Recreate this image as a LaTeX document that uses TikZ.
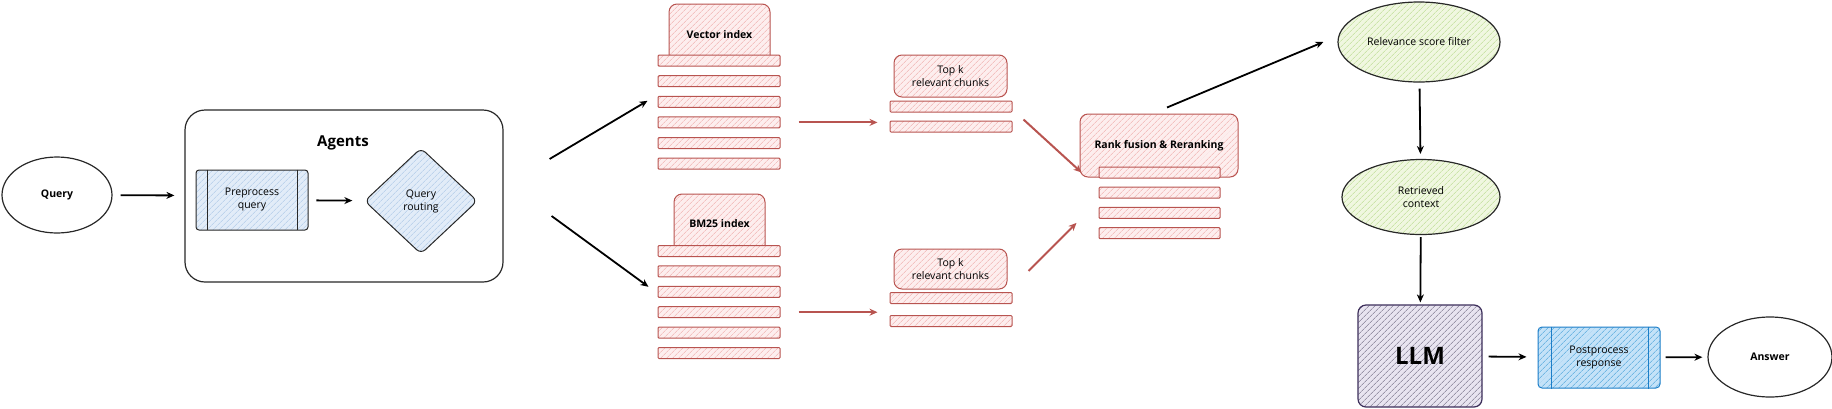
\documentclass[tikz,border=0pt]{standalone}
\usepackage{fontspec}
\setmainfont{Open Sans}
\usetikzlibrary{arrows.meta,shapes.geometric,patterns.meta}

\definecolor{redline}{RGB}{184,84,80}
\definecolor{redhatch}{RGB}{238,170,168}
\definecolor{redfill}{RGB}{253,238,238}
\definecolor{prefill}{RGB}{226,236,248}
\definecolor{prehatch}{RGB}{170,198,230}
\definecolor{postline}{RGB}{28,126,200}
\definecolor{postfill}{RGB}{196,226,248}
\definecolor{posthatch}{RGB}{70,160,216}
\definecolor{greenfill}{RGB}{240,247,224}
\definecolor{greenhatch}{RGB}{184,218,140}
\definecolor{llmline}{RGB}{60,46,90}
\definecolor{llmfill}{RGB}{232,228,240}
\definecolor{llmhatch}{RGB}{110,104,128}
\definecolor{inkline}{RGB}{40,40,40}

\tikzset{
  hatch/.style n args={2}{preaction={fill=#1}, pattern={Lines[angle=45,distance=4pt,line width=0.6pt]}, pattern color=#2},
  txt/.style={font=\fontsize{10.5}{13}\selectfont, align=center},
  btxt/.style={font=\fontsize{10.5}{13}\selectfont\bfseries, align=center},
  oval/.style={ellipse, draw=inkline, line width=1.2pt, inner sep=0},
  redbox/.style={draw=redline, line width=1pt, rounded corners=8pt, hatch={redfill}{redhatch}, inner sep=0},
  bar/.style={draw=redline, line width=1pt, rounded corners=1pt, hatch={redfill}{redhatch}, minimum width=122pt, minimum height=11pt, inner sep=0},
  arr/.style={-{Stealth[length=8pt,width=7pt]}, line width=1.8pt, draw=black},
  redarr/.style={-{Stealth[length=8pt,width=7pt]}, line width=2pt, draw=redline},
}

\begin{document}
\begin{tikzpicture}[x=1pt,y=-1pt]
    \useasboundingbox (0,0) rectangle (1832,408);
    %% Query and agents
    \node[oval,btxt,minimum width=110pt,minimum height=76pt] (query) at (57,195) {Query};
    \node[draw=inkline,line width=1.2pt,rounded corners=20pt,minimum width=318pt,minimum height=172pt] (agents) at (344,196) {};
    \node[font=\fontsize{15}{18}\selectfont\bfseries] (agentslbl) at (343,143) {Agents};
    \node[txt,draw=inkline,line width=1pt,rounded corners=3pt,hatch={prefill}{prehatch},minimum width=112pt,minimum height=60pt,inner sep=0] (pre) at (252,200) {Preprocess\\query};
    \draw[line width=0.8pt,inkline] ([xshift=12pt]pre.north west) -- ([xshift=12pt]pre.south west);
    \draw[line width=0.8pt,inkline] ([xshift=-11pt]pre.north east) -- ([xshift=-11pt]pre.south east);
    \node[txt,diamond,draw=inkline,line width=1pt,rounded corners=6pt,hatch={prefill}{prehatch},minimum width=113pt,minimum height=106pt,inner sep=0] (route) at (421,201) {Query\\routing};
    \draw[arr,shorten <=8pt,shorten >=10pt] (query) -- (agents);
    \draw[arr,shorten <=8pt,shorten >=12pt] (pre) -- (route);

    %% Vector index stack
    \node[redbox,btxt,minimum width=101pt,minimum height=61pt] (vhead) at (719.5,34.5) {Vector index};
    \foreach \i in {1,...,6}
        \node[bar] (v\i) at (719,{40+20.6*\i}) {};
    %% BM25 index stack
    \node[redbox,btxt,minimum width=91pt,minimum height=59pt] (bhead) at (719.5,223.5) {BM25 index};
    \foreach \i in {1,...,6}
        \node[bar] (b\i) at (719,{230.6+20.4*\i}) {};
    \draw[arr] ([shift={(46,-37)}]agents.east) -- ([shift={(-10,-1)}]v3.west);
    \draw[arr] ([shift={(48,20)}]agents.east) -- ([shift={(-9,-5)}]b3.west);

    %% Top k chunks
    \node[redbox,txt,minimum width=113pt,minimum height=42pt] (tk1) at (950.5,76) {Top k\\relevant chunks};
    \node[bar] (t1a) at (951,106.5) {};
    \node[bar] (t1b) at (951,126.5) {};
    \node[redbox,txt,minimum width=113pt,minimum height=40pt] (tk2) at (950.5,269) {Top k\\relevant chunks};
    \node[bar] (t2a) at (951,298) {};
    \node[bar] (t2b) at (951,321) {};
    \draw[redarr,shorten <=18pt,shorten >=12pt] (v4.east) -- (v4.east -| t1b.west);
    \draw[redarr,shorten <=18pt,shorten >=12pt] (b4.east) -- (b4.east -| t2a.west);

    %% Rank fusion
    \node[redbox,btxt,minimum width=158pt,minimum height=63pt] (rank) at (1159,145.5) {Rank fusion \& Reranking};
    \foreach \i in {1,...,4}
        \node[bar,minimum width=121pt] (r\i) at (1159.5,{152.3+20.2*\i}) {};
    \draw[redarr] ([shift={(11,-7)}]t1b.east) -- ([shift={(2,-5)}]rank.south west);
    \draw[redarr] ([shift={(21,2)}]tk2.east) -- ([shift={(-22,10)}]r3.west);

    %% Filtering and generation
    \node[oval,txt,hatch={greenfill}{greenhatch},minimum width=162pt,minimum height=80pt] (rel) at (1419,42) {Relevance score filter};
    \node[oval,txt,hatch={greenfill}{greenhatch},minimum width=158pt,minimum height=75pt] (ret) at (1421,197) {Retrieved\\context};
    \node[draw=llmline,line width=1.2pt,rounded corners=8pt,hatch={llmfill}{llmhatch},minimum width=124pt,minimum height=102pt,font=\fontsize{24}{28}\selectfont\bfseries] (llm) at (1420,356) {LLM};
    \node[txt,draw=postline,line width=1pt,rounded corners=4pt,hatch={postfill}{posthatch},minimum width=122pt,minimum height=61pt,inner sep=0] (post) at (1599,357.5) {Postprocess\\response};
    \draw[line width=0.8pt,postline] ([xshift=14pt]post.north west) -- ([xshift=14pt]post.south west);
    \draw[line width=0.8pt,postline] ([xshift=-12pt]post.north east) -- ([xshift=-12pt]post.south east);
    \node[oval,btxt,minimum width=124pt,minimum height=80pt] (ans) at (1770,357) {Answer};
    \draw[arr] ([shift={(8,-6)}]rank.north) -- ([xshift=-14pt]rel.west);
    \draw[arr,shorten <=6pt,shorten >=5pt] (rel) -- (ret);
    \draw[arr,shorten <=2pt,shorten >=2pt] (ret) -- (llm);
    \draw[arr,shorten <=6pt,shorten >=11pt] (llm) -- (post);
    \draw[arr,shorten <=5pt,shorten >=5pt] (post) -- (ans);
\end{tikzpicture}
\end{document}
